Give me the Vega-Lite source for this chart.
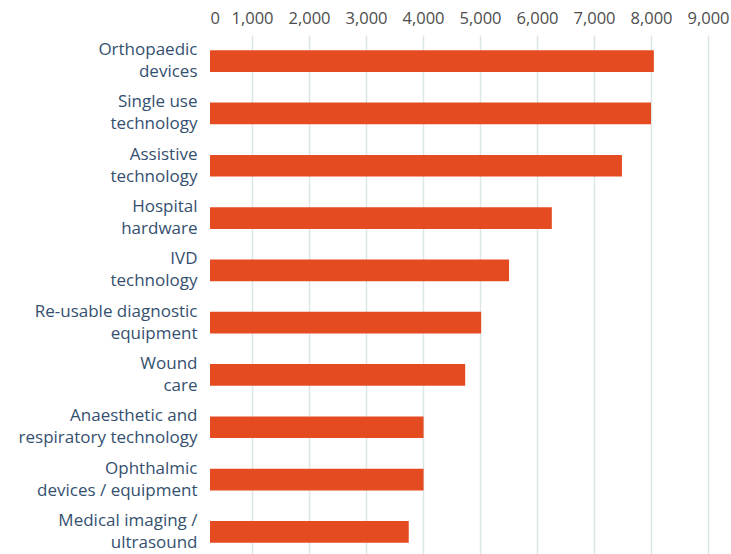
{
  "$schema": "https://vega.github.io/schema/vega-lite/v6.json",
  "autosize": {"type": "none"},
  "padding": {"left": 210, "top": 35, "right": 23, "bottom": 0},
  "width": 498,
  "height": 523,
  "background": "white",
  "data": {
    "values": [
      {"category": "Orthopaedic\ndevices", "value": 8050},
      {"category": "Single use\ntechnology", "value": 8000},
      {"category": "Assistive\ntechnology", "value": 7490},
      {"category": "Hospital\nhardware", "value": 6260},
      {"category": "IVD\ntechnology", "value": 5510},
      {"category": "Re-usable diagnostic\nequipment", "value": 5020},
      {"category": "Wound\ncare", "value": 4740},
      {"category": "Anaesthetic and\nrespiratory technology", "value": 4010},
      {"category": "Ophthalmic\ndevices / equipment", "value": 4010},
      {"category": "Medical imaging /\nultrasound", "value": 3750}
    ]
  },
  "mark": {"type": "bar", "color": "#E54B20"},
  "encoding": {
    "y": {
      "field": "category",
      "type": "nominal",
      "sort": null,
      "scale": {"paddingInner": 0.585, "paddingOuter": 0.2925},
      "axis": {
        "title": null,
        "domain": false,
        "ticks": false,
        "labelPadding": 13,
        "labelFont": "Open Sans",
        "labelFontSize": 17,
        "labelColor": "#35506F",
        "labelLineHeight": 22,
        "labelOffset": -11,
        "labelExpr": "split(datum.label, '\\n')",
        "labelLimit": 300
      }
    },
    "x": {
      "field": "value",
      "type": "quantitative",
      "scale": {"domain": [0, 1000, 9000], "range": [0, 42, 498], "nice": false, "zero": false},
      "axis": {
        "orient": "top",
        "title": null,
        "domain": false,
        "ticks": false,
        "values": [0, 1000, 2000, 3000, 4000, 5000, 6000, 7000, 8000, 9000],
        "format": ",d",
        "labelFont": "Open Sans",
        "labelFontSize": 16.5,
        "labelColor": "#4D4D4D",
        "labelPadding": 9,
        "labelAlign": {"condition": {"test": "datum.value === 0", "value": "left"}, "value": "center"},
        "grid": true,
        "gridColor": "#DCE7E5",
        "gridWidth": 1.5,
        "gridOpacity": {"condition": {"test": "datum.value === 0", "value": 0}, "value": 1}
      }
    }
  },
  "config": {"view": {"stroke": null}}
}
